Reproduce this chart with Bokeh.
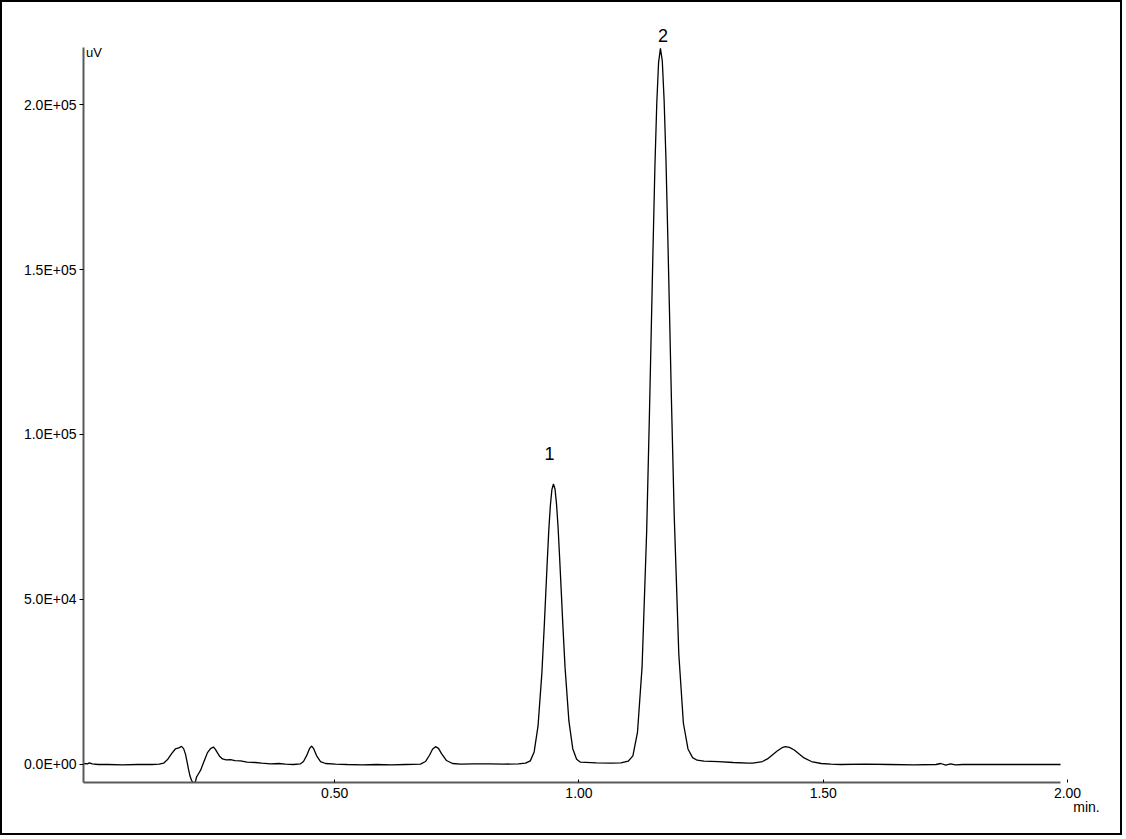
from bokeh.plotting import figure
from bokeh.models import Range1d, LinearAxis, FixedTicker, Label, ColumnDataSource
from bokeh.embed import file_html
from bokeh.resources import INLINE

# ---- data ----
t_early = [0.000, 0.008, 0.012, 0.018, 0.030, 0.050, 0.080, 0.110, 0.140, 0.155,
           0.164, 0.172, 0.180, 0.188, 0.195, 0.2006, 0.205, 0.209, 0.212, 0.215,
           0.218, 0.2211, 0.2245, 0.2272, 0.2295, 0.2313, 0.2354, 0.2395, 0.2456, 0.250,
           0.2538, 0.260, 0.2661, 0.270, 0.2743, 0.279, 0.2845, 0.292, 0.3009, 0.310,
           0.3214, 0.335, 0.3521, 0.365, 0.3828, 0.400, 0.4135, 0.430]
v_early = [300, 200, 500, 200, 0, 0, -100, 0, 0, 100,
           400, 1500, 3200, 4700, 5000, 5500, 4800, 3000, 800, -1500,
           -3500, -4800, -5500, -5700, -5000, -3800, -2800, -1800, 500, 2200,
           3600, 4800, 5300, 4600, 3500, 2400, 1700, 1400, 1500, 1200,
           1100, 700, 600, 400, 200, 300, 100, 0]

t_small = [0.4442, 0.4503, 0.4565, 0.4626, 0.4667, 0.4708, 0.477, 0.4852, 0.4954, 0.5159,
           0.540, 0.570, 0.600, 0.630, 0.660, 0.6899, 0.700, 0.7083, 0.7144, 0.7206,
           0.7267, 0.7329, 0.7431, 0.7554, 0.7718, 0.800, 0.830, 0.860, 0.890, 0.905]
v_small = [200, 900, 2600, 4800, 5600, 4900, 2700, 900, 300, 100,
           0, -100, 0, -100, 0, 100, 900, 2800, 4600, 5400,
           4900, 3300, 1200, 300, 100, 200, 200, 100, 200, 400]

t_peak1 = [0.9146, 0.9225, 0.9304, 0.9383, 0.9430, 0.9462, 0.9494, 0.9525, 0.9557, 0.9588,
           0.962, 0.9652, 0.9683, 0.9715, 0.9746, 0.9778, 0.9810, 0.9857, 0.9936, 1.0015,
           1.0094, 1.0173, 1.050, 1.080, 1.100, 1.115]
v_peak1 = [1100, 3800, 11600, 27700, 41400, 51600, 61800, 71100, 78500, 83300,
           85000, 83500, 78900, 71800, 62800, 53000, 43000, 29500, 13200, 4800,
           1600, 700, 500, 400, 500, 1000]

t_peak2 = [1.1246, 1.134, 1.1434, 1.1528, 1.1584, 1.1622, 1.166, 1.1697, 1.1735, 1.1772,
           1.181, 1.1848, 1.1885, 1.1923, 1.196, 1.1998, 1.2036, 1.2092, 1.2186, 1.228,
           1.2374, 1.2468, 1.2562, 1.27, 1.30, 1.33, 1.36]
v_peak2 = [2600, 9700, 29500, 70500, 105600, 131600, 157500, 181200, 200300, 212700,
           217000, 213200, 201500, 183500, 160500, 135500, 110000, 75500, 33500, 12500,
           4700, 2100, 1300, 1000, 900, 600, 400]

t_late = [1.37, 1.39, 1.40, 1.41, 1.42, 1.43, 1.437, 1.445, 1.455, 1.465,
          1.475, 1.49, 1.51, 1.53, 1.55, 1.60, 1.65, 1.70, 1.745, 1.755,
          1.765, 1.775, 1.785, 1.80, 1.85, 1.90, 1.95, 2.00]
v_late = [400, 900, 1700, 2900, 4100, 5100, 5400, 5200, 4400, 3200,
          2000, 900, 300, 100, 0, 100, 0, -100, 0, 300,
          -200, 200, -100, 0, 0, 0, 0, 0]

y_ticks = [0, 50000, 100000, 150000, 200000]
y_tick_labels = ["0.0E+00", "5.0E+04", "1.0E+05", "1.5E+05", "2.0E+05"]
x_ticks = [0.5, 1.0, 1.5, 2.0]
x_tick_labels = ["0.50", "1.00", "1.50", "2.00"]

peak_names = ["1", "2"]
peak_times = [0.9539, 1.1863]
peak_label_vals = [94240, 221000]

x_unit = "min."
y_unit = "uV"

times = t_early + t_small + t_peak1 + t_peak2 + t_late
signal = v_early + v_small + v_peak1 + v_peak2 + v_late
assert len(times) == len(signal)

FONT = "Liberation Sans"
X_MIN, X_MAX, X_END = 0.0, 2.0, 2.1023        # frame extends beyond the axis line
Y_MIN, Y_MAX, Y_END = -5455, 217273, 225455
LBL_SHIFT = 0.0143                              # tick labels sit a little right of the data ticks

p = figure(width=1122, height=835, output_backend="svg", toolbar_location=None,
           x_range=Range1d(X_MIN, X_END), y_range=Range1d(Y_MIN, Y_END),
           x_axis_location=None, y_axis_location=None,
           min_border_left=81, min_border_right=14, min_border_top=18, min_border_bottom=55)
p.styles = {"border": "2px solid black"}
p.outline_line_color = None
p.xgrid.visible = False
p.ygrid.visible = False
p.background_fill_color = "white"
p.border_fill_color = "white"
p.extra_x_ranges = {"lbl": Range1d(X_MIN - LBL_SHIFT, X_END - LBL_SHIFT)}

src = ColumnDataSource(dict(t=times, v=signal))
p.line("t", "v", source=src, line_color="black", line_width=1.3)

# y axis
yaxis = LinearAxis(ticker=FixedTicker(ticks=y_ticks), bounds=(Y_MIN, Y_MAX),
                   major_label_overrides={k: s for k, s in zip(y_ticks, y_tick_labels)})
yaxis.axis_line_color = "#5a5a5a"
yaxis.axis_line_width = 2
yaxis.major_tick_line_color = "black"
yaxis.major_tick_out = 4
yaxis.major_tick_in = 0
yaxis.minor_tick_line_color = None
yaxis.major_label_standoff = 3
yaxis.major_label_text_font = FONT
yaxis.major_label_text_font_size = "14px"
yaxis.major_label_text_color = "black"
p.add_layout(yaxis, "left")

# x axis (labels a little to the right of where the ticks would be centred)
xaxis = LinearAxis(ticker=FixedTicker(ticks=x_ticks), x_range_name="lbl",
                   bounds=(X_MIN - LBL_SHIFT, X_MAX - LBL_SHIFT),
                   major_label_overrides={k: s for k, s in zip(x_ticks, x_tick_labels)})
xaxis.axis_line_color = "#5a5a5a"
xaxis.axis_line_width = 2
xaxis.major_tick_line_color = "black"
xaxis.major_tick_out = 0
xaxis.major_tick_in = 3
xaxis.minor_tick_line_color = None
xaxis.major_label_standoff = 5
xaxis.major_label_text_font = FONT
xaxis.major_label_text_font_size = "14px"
xaxis.major_label_text_color = "black"
p.add_layout(xaxis, "below")

# x unit "min."
xunit = LinearAxis(ticker=FixedTicker(ticks=[2.0532]),
                   major_label_overrides={2.0532: x_unit})
xunit.axis_line_color = None
xunit.major_tick_line_color = None
xunit.minor_tick_line_color = None
xunit.major_label_standoff = -8
xunit.major_label_text_font = FONT
xunit.major_label_text_font_size = "14px"
xunit.major_label_text_color = "black"
p.add_layout(xunit, "below")

for name, tx, vy in zip(peak_names, peak_times, peak_label_vals):
    p.add_layout(Label(x=tx, y=vy, text=name, text_align="center", text_baseline="alphabetic",
                       text_font=FONT, text_font_size="18px", text_color="black"))

p.add_layout(Label(x=0.005, y=215760, text=y_unit, text_align="left", text_baseline="alphabetic",
                   text_font=FONT, text_font_size="13px", text_color="black"))

open("out.html", "w").write(file_html(p, INLINE))
